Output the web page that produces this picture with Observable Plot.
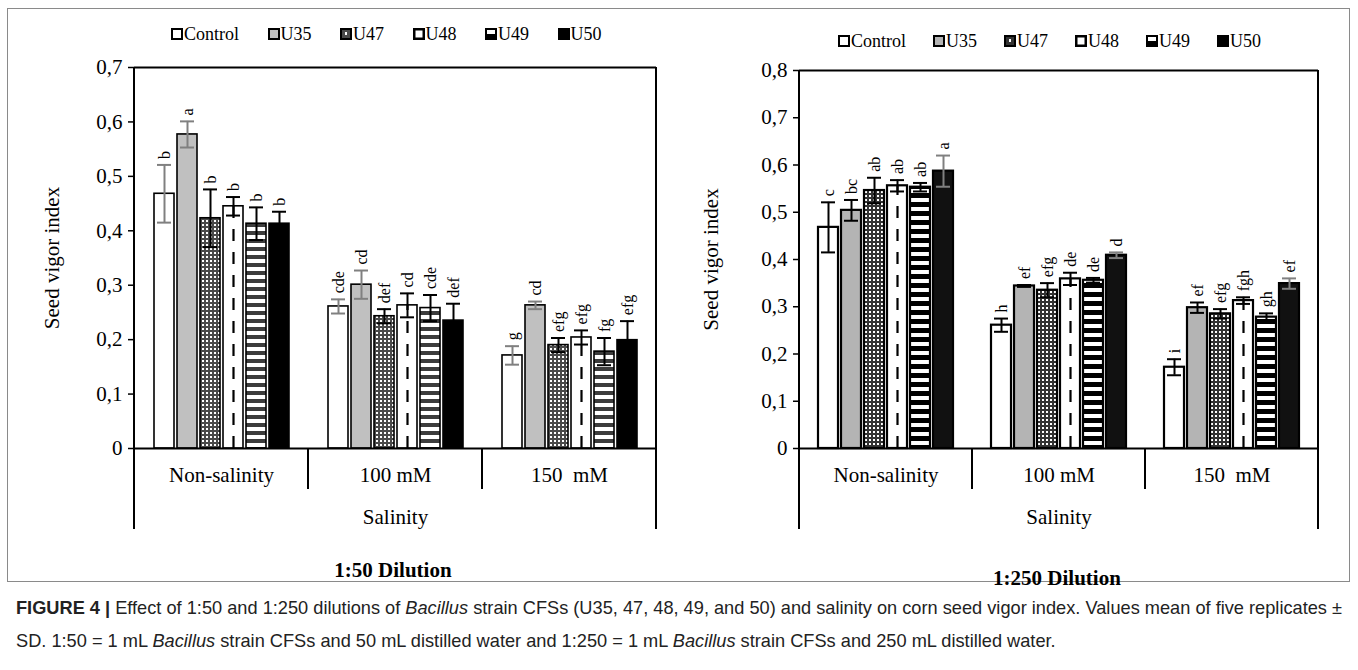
<!DOCTYPE html>
<html>
<head>
<meta charset="utf-8">
<script src="https://cdn.jsdelivr.net/npm/d3@7"></script>
<script src="https://cdn.jsdelivr.net/npm/@observablehq/plot@0.6"></script>
<style>
  html, body { margin: 0; padding: 0; background: #fff; }
  body { width: 1358px; height: 670px; position: relative; overflow: hidden; font-family: "Liberation Serif", "Times New Roman", serif; color: #000; }
  #frame { position: absolute; left: 7px; top: 8px; width: 1343px; height: 574px; border: 1px solid #8a8a8a; box-sizing: border-box; }
  .panel { position: absolute; }
  .panel svg text { white-space: pre; font-family: "Liberation Serif", "Times New Roman", serif !important; }
  .legend { position: absolute; display: flex; align-items: center; font-family: "Liberation Serif", "Times New Roman", serif; font-size: 18px; line-height: 20px; white-space: nowrap; }
  .legend .item { display: flex; align-items: center; }
  .legend .item svg { margin-right: 1px; }
  .title { position: absolute; font-family: "Liberation Serif", "Times New Roman", serif; font-weight: bold; font-size: 21px; transform: translate(-50%, -50%); white-space: nowrap; }
  .caption { position: absolute; left: 16px; top: 591px; font-family: "Liberation Sans", Arial, sans-serif; font-size: 19px; line-height: 33px; color: #222; white-space: nowrap; transform-origin: 0 0; }
  .caption div { transform-origin: 0 50%; }
</style>
</head>
<body>
<div id="frame"></div>
<div id="legendL" class="legend" style="left:171px; top:24px;"></div>
<div id="legendR" class="legend" style="left:838px; top:31px;"></div>
<div id="panelL" class="panel" style="left:0px; top:55px;"></div>
<div id="panelR" class="panel" style="left:680px; top:58px;"></div>
<div class="title" style="left:393px; top:570px;">1:50 Dilution</div>
<div class="title" style="left:1057px; top:578px;">1:250 Dilution</div>
<div class="caption" id="caption"><div id="cap1"><span><b>FIGURE 4 |</b> Effect of 1:50 and 1:250 dilutions of <i>Bacillus</i> strain CFSs (U35, 47, 48, 49, and 50) and salinity on corn seed vigor index. Values mean of five replicates ±</span></div><div id="cap2"><span>SD. 1:50 = 1 mL <i>Bacillus</i> strain CFSs and 50 mL distilled water and 1:250 = 1 mL <i>Bacillus</i> strain CFSs and 250 mL distilled water.</span></div></div>
<script>
// ---------------- data ----------------
const seriesNames = ["Control", "U35", "U47", "U48", "U49", "U50"];
const salinityLevels = ["Non-salinity", "100 mM", "150  mM"];
const yTicks50 = [0, 0.1, 0.2, 0.3, 0.4, 0.5, 0.6, 0.7];
const yTicks250 = [0, 0.1, 0.2, 0.3, 0.4, 0.5, 0.6, 0.7, 0.8];

// 1:50 dilution
const mean50NonSalinity = [0.468, 0.577, 0.423, 0.445, 0.413, 0.413];
const sd50NonSalinity   = [0.053, 0.024, 0.053, 0.017, 0.030, 0.022];
const letters50NonSalinity = ["b", "a", "b", "b", "b", "b"];
const mean50Salt100 = [0.261, 0.301, 0.243, 0.263, 0.258, 0.235];
const sd50Salt100   = [0.013, 0.026, 0.013, 0.022, 0.024, 0.031];
const letters50Salt100 = ["cde", "cd", "def", "cd", "cde", "def"];
const mean50Salt150 = [0.171, 0.263, 0.190, 0.204, 0.178, 0.199];
const sd50Salt150   = [0.017, 0.007, 0.013, 0.013, 0.025, 0.035];
const letters50Salt150 = ["g", "cd", "efg", "efg", "fg", "efg"];

// 1:250 dilution
const mean250NonSalinity = [0.468, 0.504, 0.546, 0.556, 0.553, 0.587];
const sd250NonSalinity   = [0.053, 0.022, 0.027, 0.012, 0.009, 0.033];
const letters250NonSalinity = ["c", "bc", "ab", "ab", "ab", "a"];
const mean250Salt100 = [0.261, 0.344, 0.335, 0.359, 0.356, 0.409];
const sd250Salt100   = [0.014, 0.002, 0.015, 0.013, 0.005, 0.006];
const letters250Salt100 = ["h", "ef", "efg", "de", "de", "d"];
const mean250Salt150 = [0.172, 0.298, 0.285, 0.313, 0.278, 0.349];
const sd250Salt150   = [0.017, 0.011, 0.010, 0.007, 0.008, 0.011];
const letters250Salt150 = ["i", "ef", "efg", "fgh", "gh", "ef"];

// ---------------- table building ----------------
function buildRows(groups) {
  const rows = [];
  groups.forEach(([cat, means, sds, letters]) => {
    seriesNames.forEach((s, i) => rows.push({cat, series: s, value: means[i], sd: sds[i], letter: letters[i]}));
  });
  return rows;
}
const rows50 = buildRows([
  [salinityLevels[0], mean50NonSalinity, sd50NonSalinity, letters50NonSalinity],
  [salinityLevels[1], mean50Salt100, sd50Salt100, letters50Salt100],
  [salinityLevels[2], mean50Salt150, sd50Salt150, letters50Salt150]
]);
const rows250 = buildRows([
  [salinityLevels[0], mean250NonSalinity, sd250NonSalinity, letters250NonSalinity],
  [salinityLevels[1], mean250Salt100, sd250Salt100, letters250Salt100],
  [salinityLevels[2], mean250Salt150, sd250Salt150, letters250Salt150]
]);

// ---------------- styles ----------------
const serif = "'Liberation Serif', 'Times New Roman', serif";
const styleL = {
  prefix: "L",
  fills: {Control: "#ffffff", U35: "#c0c0c0", U47: "url(#L-dots)", U48: "#ffffff", U49: "url(#L-stripes)", U50: "#000000"},
  errs: {Control: "#808080", U35: "#808080", U47: "#000", U48: "#000", U49: "#000", U50: "#000"},
  dotDark: "#4a4a4a", stripeDark: "#3c3c3c", stripePeriod: 8, stripeDarkH: 4,
  barStroke: 1.6, legendGap: 28.5
};
const styleR = {
  prefix: "R",
  fills: {Control: "#ffffff", U35: "#b4b4b4", U47: "url(#R-dots)", U48: "#ffffff", U49: "url(#R-stripes)", U50: "#111111"},
  errs: {Control: "#000", U35: "#000", U47: "#000", U48: "#000", U49: "#000", U50: "#808080"},
  dotDark: "#333333", stripeDark: "#000000", stripePeriod: 9, stripeDarkH: 5,
  barStroke: 2.2, legendGap: 27
};

const fmt = d => String(d).replace(".", ",");

function drawPanel(container, rows, yMax, yTicks, st, geom) {
  const plot = Plot.plot({
    width: geom.width, height: geom.height,
    marginLeft: geom.marginLeft, marginRight: geom.marginRight,
    marginTop: 12, marginBottom: 90,
    style: {background: "transparent", overflow: "visible", fontFamily: serif, fontSize: "21px", color: "#000"},
    fx: {domain: salinityLevels, padding: 0},
    x: {domain: seriesNames, paddingInner: 0.14, paddingOuter: 0.82, axis: null},
    y: {domain: [0, yMax]},
    color: {type: "identity"},
    marks: [
      Plot.axisY(yTicks, {tickFormat: fmt, tickSize: 6, tickPadding: 6, strokeWidth: 1.5, fontSize: 21, fontFamily: serif,
        label: "Seed vigor index", labelAnchor: "center", labelArrow: "none", labelOffset: geom.labelOffset}),
      Plot.axisFx({anchor: "bottom", tickSize: 0, tickPadding: 19, fontSize: 21, fontFamily: serif,
        label: "Salinity", labelAnchor: "center", labelArrow: "none", labelOffset: 75}),
      Plot.barY(rows, {fx: "cat", x: "series", y: "value", fill: d => st.fills[d.series], stroke: "#000", strokeWidth: st.barStroke}),
      Plot.ruleX(rows.filter(d => d.series === "U48"), {fx: "cat", x: "series", y1: 0, y2: "value", stroke: "#000", strokeWidth: 2.2, strokeDasharray: "12,11"}),
      Plot.ruleX(rows, {fx: "cat", x: "series", y1: d => d.value - d.sd, y2: d => d.value + d.sd, stroke: d => st.errs[d.series], strokeWidth: 2}),
      Plot.tickY(rows, {fx: "cat", x: "series", y: d => d.value + d.sd, stroke: d => st.errs[d.series], strokeWidth: 2, insetLeft: 3, insetRight: 3}),
      Plot.tickY(rows, {fx: "cat", x: "series", y: d => d.value - d.sd, stroke: d => st.errs[d.series], strokeWidth: 2, insetLeft: 3, insetRight: 3}),
      Plot.text(rows, {fx: "cat", x: "series", y: d => d.value + d.sd, text: "letter", rotate: -90, textAnchor: "start", dy: -6, fontSize: 16, fontFamily: serif}),
      Plot.ruleY([0], {stroke: "#000", strokeWidth: 2}),
      Plot.ruleY([yMax], {stroke: "#000", strokeWidth: 2})
    ]
  });

  const svg = d3.select(plot);
  // patterns for textured bars
  const defs = svg.insert("defs", ":first-child");
  const dots = defs.append("pattern").attr("id", st.prefix + "-dots").attr("patternUnits", "userSpaceOnUse").attr("width", 4).attr("height", 4);
  dots.append("rect").attr("width", 4).attr("height", 4).attr("fill", st.dotDark);
  dots.append("rect").attr("x", 1).attr("y", 1).attr("width", 2).attr("height", 2).attr("fill", "#fff");
  const stripes = defs.append("pattern").attr("id", st.prefix + "-stripes").attr("patternUnits", "userSpaceOnUse").attr("width", 8).attr("height", st.stripePeriod);
  stripes.append("rect").attr("width", 8).attr("height", st.stripePeriod).attr("fill", "#fff");
  stripes.append("rect").attr("width", 8).attr("height", st.stripeDarkH).attr("fill", st.stripeDark);

  // plot box and category separators from the library's own scales
  const fx = plot.scale("fx"), y = plot.scale("y");
  const x0 = fx.apply(salinityLevels[0]);
  const x1 = fx.apply(salinityLevels[salinityLevels.length - 1]) + fx.bandwidth;
  const yTop = y.apply(yMax), yZero = y.apply(0);
  const g = svg.append("g").attr("stroke", "#000").attr("stroke-width", 2).attr("fill", "none");
  g.append("line").attr("x1", x0).attr("x2", x0).attr("y1", yTop).attr("y2", yZero + 81);
  g.append("line").attr("x1", x1).attr("x2", x1).attr("y1", yTop).attr("y2", yZero + 81);
  salinityLevels.slice(1).forEach(c => {
    const xs = fx.apply(c);
    g.append("line").attr("x1", xs).attr("x2", xs).attr("y1", yZero).attr("y2", yZero + 41);
  });
  container.appendChild(plot);
}

drawPanel(document.getElementById("panelL"), rows50, 0.7, yTicks50, styleL,
  {width: 670, height: 483, marginLeft: 133, marginRight: 14, labelOffset: 90});
drawPanel(document.getElementById("panelR"), rows250, 0.8, yTicks250, styleR,
  {width: 670, height: 480, marginLeft: 119, marginRight: 32, labelOffset: 96});

// ---------------- legends ----------------
function swatch(s, st) {
  const dark = st.prefix === "L" ? "#4a4a4a" : "#333";
  let inner;
  if (s === "Control") inner = `<rect x="1" y="1" width="10" height="10" fill="#fff" stroke="#000" stroke-width="2"/>`;
  else if (s === "U35") inner = `<rect x="1" y="1" width="10" height="10" fill="${st.fills.U35}" stroke="#000" stroke-width="2"/>`;
  else if (s === "U47") inner = `<rect x="1" y="1" width="10" height="10" fill="${dark}" stroke="#000" stroke-width="2"/><rect x="5" y="4" width="2" height="3" fill="#fff"/>`;
  else if (s === "U48") inner = `<rect x="1.25" y="1.25" width="9.5" height="9.5" fill="#fff" stroke="#000" stroke-width="2.5"/>`;
  else if (s === "U49") inner = `<rect x="1" y="1" width="10" height="10" fill="#fff" stroke="#000" stroke-width="2"/><rect x="1" y="6" width="10" height="5" fill="#000"/>`;
  else inner = `<rect x="0" y="0" width="12" height="12" fill="#000"/>`;
  return `<svg width="12" height="12" viewBox="0 0 12 12">${inner}</svg>`;
}
function legend(el, st) {
  el.innerHTML = seriesNames.map((s, i) =>
    `<span class="item" style="margin-right:${i < seriesNames.length - 1 ? st.legendGap : 0}px">${swatch(s, st)}<span>${s}</span></span>`).join("");
}
legend(document.getElementById("legendL"), styleL);
legend(document.getElementById("legendR"), styleR);

// ---------------- caption fit (condensed look) ----------------
const capWidth = document.getElementById("cap1").firstElementChild.getBoundingClientRect().width;
const capScale = 1326 / capWidth;
["cap1", "cap2"].forEach(id => {
  document.getElementById(id).style.transform = `scaleX(${capScale})`;
});
</script>
</body>
</html>
